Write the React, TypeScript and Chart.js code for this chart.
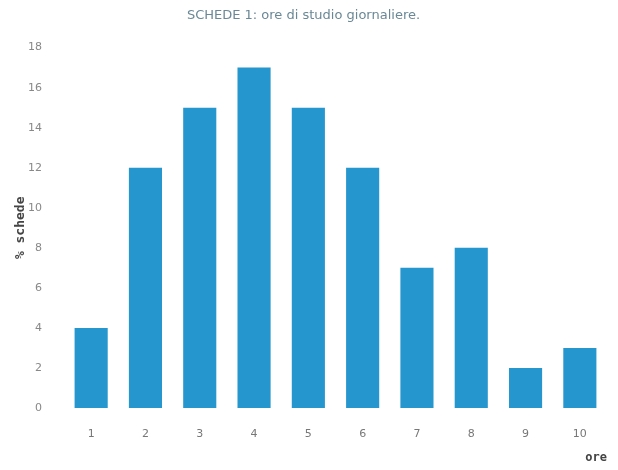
import React, { useEffect, useRef } from "react";
import { Chart, registerables } from "chart.js";

Chart.register(...registerables);

const categories = ["1", "2", "3", "4", "5", "6", "7", "8", "9", "10"];
const percentSchede = [4, 12, 15, 17, 15, 12, 7, 8, 2, 3];
const titleText = "SCHEDE 1: ore di studio giornaliere.";
const xTitle = "ore";
const yTitle = "% schede";

export default function App() {
  const ref = useRef<HTMLCanvasElement | null>(null);
  useEffect(() => {
    if (!ref.current) return;
    const chart = new Chart(ref.current, {
      type: "bar",
      data: {
        labels: categories,
        datasets: [
          {
            data: percentSchede,
            backgroundColor: "rgb(38,150,206)",
            borderWidth: 0,
            categoryPercentage: 1,
            barPercentage: 0.61,
          },
        ],
      },
      options: {
        animation: false,
        responsive: false,
        maintainAspectRatio: false,
        layout: { padding: { left: 0, right: 11, top: 0, bottom: 0 } },
        plugins: {
          legend: { display: false },
          tooltip: { enabled: false },
          title: {
            display: true,
            text: titleText,
            color: "#6a8896",
            font: { family: "DejaVu Sans", size: 13, weight: "normal" },
            padding: { top: 8, bottom: 24 },
          },
        },
        scales: {
          x: {
            grid: { display: false },
            border: { display: false },
            ticks: {
              color: "#777",
              font: { family: "DejaVu Sans", size: 11 },
              padding: 12,
              maxRotation: 0,
            },
            title: {
              display: true,
              text: xTitle,
              align: "end",
              color: "#444",
              font: { family: "DejaVu Sans Mono", size: 12, weight: "bold" },
              padding: { top: 0, bottom: 5 },
            },
            afterFit: (s: any) => {
              s.height = 62;
            },
          },
          y: {
            min: 0,
            max: 18,
            grid: { display: false },
            border: { display: false },
            ticks: {
              stepSize: 2,
              color: "#888",
              font: { family: "DejaVu Sans", size: 11 },
              padding: 14,
            },
            title: {
              display: true,
              text: yTitle,
              color: "#444",
              font: { family: "DejaVu Sans Mono", size: 13, weight: "bold" },
              padding: { top: 13, bottom: 0 },
            },
            afterFit: (s: any) => {
              s.width = 64;
            },
          },
        },
      },
    });
    return () => chart.destroy();
  }, []);
  return (
    <div style={{ position: "fixed", left: 0, top: 0, width: 618, height: 470, background: "#fff" }}>
      <canvas ref={ref} width={618} height={470} />
    </div>
  );
}
